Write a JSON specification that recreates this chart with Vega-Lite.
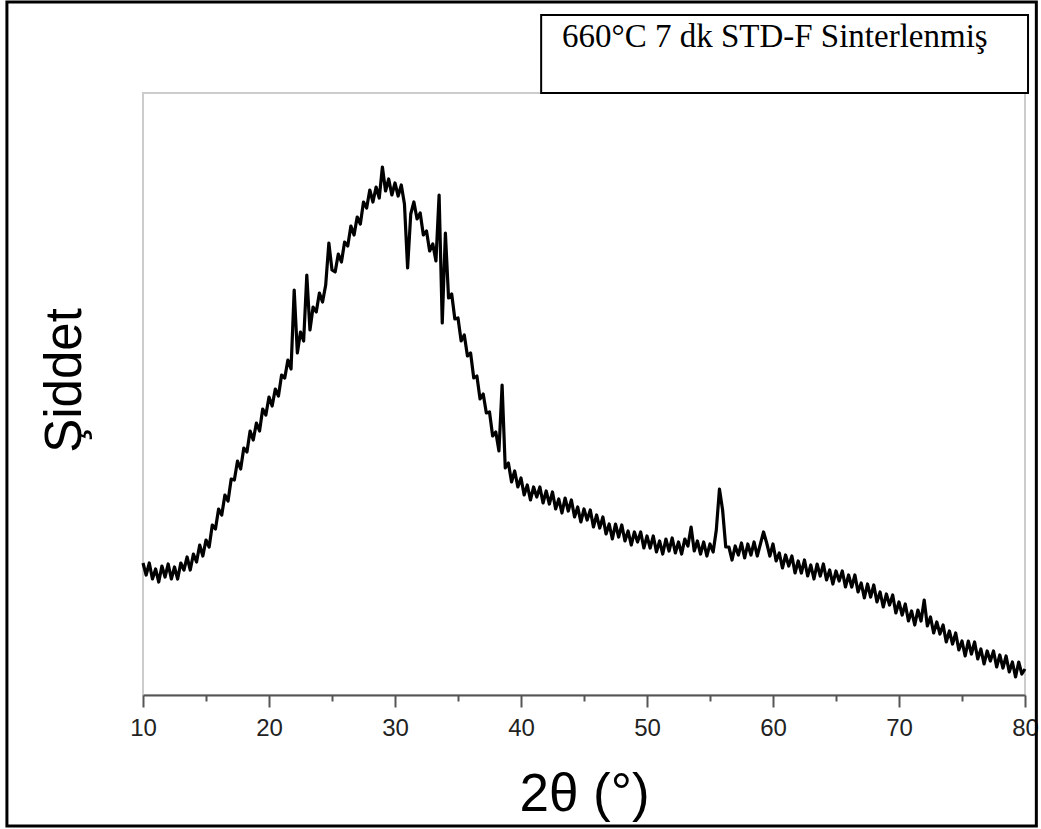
{
  "$schema": "https://vega.github.io/schema/vega-lite/v6.json",
  "width": 882,
  "height": 602,
  "autosize": "none",
  "padding": {"left": 143, "top": 93, "right": 16, "bottom": 134},
  "background": "white",
  "config": {"view": {"stroke": "#cccccc", "strokeWidth": 2}},
  "datasets": {
    "note": [{"label": "660°C 7 dk STD-F Sinterlenmiş"}],
    "xrd": [
      {"angle":10,"intensity":132},{"angle":10.25,"intensity":120},{"angle":10.5,"intensity":132},{"angle":10.75,"intensity":116},
      {"angle":11,"intensity":126},{"angle":11.25,"intensity":113},{"angle":11.5,"intensity":129},{"angle":11.75,"intensity":118},
      {"angle":12,"intensity":131},{"angle":12.25,"intensity":116},{"angle":12.5,"intensity":128},{"angle":12.75,"intensity":116},
      {"angle":13,"intensity":132},{"angle":13.25,"intensity":125},{"angle":13.5,"intensity":138},{"angle":13.75,"intensity":125},
      {"angle":14,"intensity":141},{"angle":14.25,"intensity":133},{"angle":14.5,"intensity":150},{"angle":14.75,"intensity":139},
      {"angle":15,"intensity":155},{"angle":15.25,"intensity":148},{"angle":15.5,"intensity":170},{"angle":15.75,"intensity":166},
      {"angle":16,"intensity":186},{"angle":16.25,"intensity":180},{"angle":16.5,"intensity":200},{"angle":16.75,"intensity":194},
      {"angle":17,"intensity":216},{"angle":17.25,"intensity":215},{"angle":17.5,"intensity":234},{"angle":17.75,"intensity":226},
      {"angle":18,"intensity":247},{"angle":18.25,"intensity":243},{"angle":18.5,"intensity":264},{"angle":18.75,"intensity":255},
      {"angle":19,"intensity":272},{"angle":19.25,"intensity":264},{"angle":19.5,"intensity":286},{"angle":19.75,"intensity":280},
      {"angle":20,"intensity":298},{"angle":20.25,"intensity":289},{"angle":20.5,"intensity":306},{"angle":20.75,"intensity":299},
      {"angle":21,"intensity":320},{"angle":21.25,"intensity":317},{"angle":21.5,"intensity":335},{"angle":21.75,"intensity":326},
      {"angle":22,"intensity":405},{"angle":22.25,"intensity":342},{"angle":22.5,"intensity":363},{"angle":22.75,"intensity":354},
      {"angle":23,"intensity":420},{"angle":23.25,"intensity":365},{"angle":23.5,"intensity":388},{"angle":23.75,"intensity":383},
      {"angle":24,"intensity":402},{"angle":24.25,"intensity":393},{"angle":24.5,"intensity":410},{"angle":24.75,"intensity":452},
      {"angle":25,"intensity":425},{"angle":25.25,"intensity":423},{"angle":25.5,"intensity":441},{"angle":25.75,"intensity":433},
      {"angle":26,"intensity":453},{"angle":26.25,"intensity":449},{"angle":26.5,"intensity":469},{"angle":26.75,"intensity":460},
      {"angle":27,"intensity":478},{"angle":27.25,"intensity":471},{"angle":27.5,"intensity":493},{"angle":27.75,"intensity":487},
      {"angle":28,"intensity":505},{"angle":28.25,"intensity":493},{"angle":28.5,"intensity":508},{"angle":28.75,"intensity":497},
      {"angle":29,"intensity":528},{"angle":29.25,"intensity":504},{"angle":29.5,"intensity":516},{"angle":29.75,"intensity":500},
      {"angle":30,"intensity":512},{"angle":30.25,"intensity":499},{"angle":30.5,"intensity":510},{"angle":30.75,"intensity":491},
      {"angle":31,"intensity":427},{"angle":31.25,"intensity":481},{"angle":31.5,"intensity":493},{"angle":31.75,"intensity":476},
      {"angle":32,"intensity":482},{"angle":32.25,"intensity":460},{"angle":32.5,"intensity":464},{"angle":32.75,"intensity":444},
      {"angle":33,"intensity":451},{"angle":33.25,"intensity":434},{"angle":33.5,"intensity":500},{"angle":33.75,"intensity":372},
      {"angle":34,"intensity":462},{"angle":34.25,"intensity":397},{"angle":34.5,"intensity":401},{"angle":34.75,"intensity":376},
      {"angle":35,"intensity":377},{"angle":35.25,"intensity":354},{"angle":35.5,"intensity":360},{"angle":35.75,"intensity":339},
      {"angle":36,"intensity":342},{"angle":36.25,"intensity":317},{"angle":36.5,"intensity":319},{"angle":36.75,"intensity":296},
      {"angle":37,"intensity":301},{"angle":37.25,"intensity":282},{"angle":37.5,"intensity":283},{"angle":37.75,"intensity":259},
      {"angle":38,"intensity":263},{"angle":38.25,"intensity":244},{"angle":38.5,"intensity":310},{"angle":38.75,"intensity":227},
      {"angle":39,"intensity":232},{"angle":39.25,"intensity":213},{"angle":39.5,"intensity":224},{"angle":39.75,"intensity":208},
      {"angle":40,"intensity":217},{"angle":40.25,"intensity":200},{"angle":40.5,"intensity":210},{"angle":40.75,"intensity":195},
      {"angle":41,"intensity":208},{"angle":41.25,"intensity":198},{"angle":41.5,"intensity":208},{"angle":41.75,"intensity":192},
      {"angle":42,"intensity":204},{"angle":42.25,"intensity":191},{"angle":42.5,"intensity":203},{"angle":42.75,"intensity":186},
      {"angle":43,"intensity":196},{"angle":43.25,"intensity":182},{"angle":43.5,"intensity":197},{"angle":43.75,"intensity":184},
      {"angle":44,"intensity":195},{"angle":44.25,"intensity":178},{"angle":44.5,"intensity":188},{"angle":44.75,"intensity":173},
      {"angle":45,"intensity":186},{"angle":45.25,"intensity":175},{"angle":45.5,"intensity":185},{"angle":45.75,"intensity":168},
      {"angle":46,"intensity":180},{"angle":46.25,"intensity":167},{"angle":46.5,"intensity":178},{"angle":46.75,"intensity":161},
      {"angle":47,"intensity":171},{"angle":47.25,"intensity":156},{"angle":47.5,"intensity":171},{"angle":47.75,"intensity":158},
      {"angle":48,"intensity":170},{"angle":48.25,"intensity":154},{"angle":48.5,"intensity":164},{"angle":48.75,"intensity":150},
      {"angle":49,"intensity":163},{"angle":49.25,"intensity":153},{"angle":49.5,"intensity":163},{"angle":49.75,"intensity":147},
      {"angle":50,"intensity":159},{"angle":50.25,"intensity":147},{"angle":50.5,"intensity":159},{"angle":50.75,"intensity":143},
      {"angle":51,"intensity":154},{"angle":51.25,"intensity":141},{"angle":51.5,"intensity":156},{"angle":51.75,"intensity":144},
      {"angle":52,"intensity":157},{"angle":52.25,"intensity":142},{"angle":52.5,"intensity":153},{"angle":52.75,"intensity":141},
      {"angle":53,"intensity":156},{"angle":53.25,"intensity":149},{"angle":53.5,"intensity":168},{"angle":53.75,"intensity":144},
      {"angle":54,"intensity":154},{"angle":54.25,"intensity":141},{"angle":54.5,"intensity":153},{"angle":54.75,"intensity":139},
      {"angle":55,"intensity":151},{"angle":55.25,"intensity":143},{"angle":55.5,"intensity":165},{"angle":55.75,"intensity":206},
      {"angle":56,"intensity":185},{"angle":56.25,"intensity":148},{"angle":56.5,"intensity":148},{"angle":56.75,"intensity":135},
      {"angle":57,"intensity":149},{"angle":57.25,"intensity":140},{"angle":57.5,"intensity":152},{"angle":57.75,"intensity":137},
      {"angle":58,"intensity":151},{"angle":58.25,"intensity":140},{"angle":58.5,"intensity":153},{"angle":58.75,"intensity":139},
      {"angle":59,"intensity":151},{"angle":59.25,"intensity":163},{"angle":59.5,"intensity":152},{"angle":59.75,"intensity":139},
      {"angle":60,"intensity":151},{"angle":60.25,"intensity":134},{"angle":60.5,"intensity":142},{"angle":60.75,"intensity":127},
      {"angle":61,"intensity":140},{"angle":61.25,"intensity":129},{"angle":61.5,"intensity":139},{"angle":61.75,"intensity":122},
      {"angle":62,"intensity":134},{"angle":62.25,"intensity":122},{"angle":62.5,"intensity":135},{"angle":62.75,"intensity":119},
      {"angle":63,"intensity":130},{"angle":63.25,"intensity":116},{"angle":63.5,"intensity":131},{"angle":63.75,"intensity":119},
      {"angle":64,"intensity":131},{"angle":64.25,"intensity":115},{"angle":64.5,"intensity":125},{"angle":64.75,"intensity":111},
      {"angle":65,"intensity":124},{"angle":65.25,"intensity":114},{"angle":65.5,"intensity":124},{"angle":65.75,"intensity":108},
      {"angle":66,"intensity":120},{"angle":66.25,"intensity":108},{"angle":66.5,"intensity":120},{"angle":66.75,"intensity":103},
      {"angle":67,"intensity":112},{"angle":67.25,"intensity":97},{"angle":67.5,"intensity":111},{"angle":67.75,"intensity":98},
      {"angle":68,"intensity":110},{"angle":68.25,"intensity":93},{"angle":68.5,"intensity":103},{"angle":68.75,"intensity":88},
      {"angle":69,"intensity":101},{"angle":69.25,"intensity":90},{"angle":69.5,"intensity":100},{"angle":69.75,"intensity":82},
      {"angle":70,"intensity":93},{"angle":70.25,"intensity":80},{"angle":70.5,"intensity":91},{"angle":70.75,"intensity":74},
      {"angle":71,"intensity":84},{"angle":71.25,"intensity":70},{"angle":71.5,"intensity":85},{"angle":71.75,"intensity":74},
      {"angle":72,"intensity":95},{"angle":72.25,"intensity":69},{"angle":72.5,"intensity":78},{"angle":72.75,"intensity":62},
      {"angle":73,"intensity":73},{"angle":73.25,"intensity":61},{"angle":73.5,"intensity":70},{"angle":73.75,"intensity":53},
      {"angle":74,"intensity":64},{"angle":74.25,"intensity":51},{"angle":74.5,"intensity":62},{"angle":74.75,"intensity":45},
      {"angle":75,"intensity":54},{"angle":75.25,"intensity":39},{"angle":75.5,"intensity":54},{"angle":75.75,"intensity":41},
      {"angle":76,"intensity":53},{"angle":76.25,"intensity":36},{"angle":76.5,"intensity":46},{"angle":76.75,"intensity":31},
      {"angle":77,"intensity":44},{"angle":77.25,"intensity":34},{"angle":77.5,"intensity":44},{"angle":77.75,"intensity":28},
      {"angle":78,"intensity":40},{"angle":78.25,"intensity":27},{"angle":78.5,"intensity":39},{"angle":78.75,"intensity":23},
      {"angle":79,"intensity":33},{"angle":79.25,"intensity":18},{"angle":79.5,"intensity":33},{"angle":79.75,"intensity":21},
      {"angle":80,"intensity":26}
    ]
  },
  "layer": [
    {
      "data": {"name": "xrd"},
      "mark": {"type": "line", "color": "black", "strokeWidth": 3.2, "interpolate": "linear", "strokeJoin": "round"},
      "encoding": {
        "x": {
          "field": "angle", "type": "quantitative",
          "scale": {"domain": [10, 80], "nice": false, "zero": false},
          "axis": {
            "title": "2θ (°)",
            "values": [10, 15, 20, 25, 30, 35, 40, 45, 50, 55, 60, 65, 70, 75, 80],
            "labelExpr": "datum.value % 10 === 0 ? datum.label : ''",
            "tickSize": {"condition": {"test": "datum.value % 10 === 0", "value": 12}, "value": 6},
            "tickWidth": 2, "tickColor": "#555555",
            "domainColor": "#555555", "domainWidth": 2,
            "grid": false,
            "labelFont": "Liberation Sans", "labelFontSize": 24, "labelColor": "#222222",
            "labelPadding": 9, "labelFlush": false, "labelOverlap": false,
            "titleFont": "Liberation Sans", "titleFontSize": 53, "titleFontWeight": "normal", "titleColor": "black",
            "titleX": 441, "titleY": 115, "titleAlign": "center", "titleBaseline": "alphabetic"
          }
        },
        "y": {
          "field": "intensity", "type": "quantitative",
          "scale": {"domain": [0, 602], "nice": false, "zero": false},
          "axis": {
            "title": "Şiddet", "ticks": false, "labels": false, "domain": false, "grid": false,
            "titleFont": "Liberation Sans", "titleFontSize": 51, "titleFontWeight": "normal", "titleColor": "black",
            "titleX": -63, "titleY": 287, "titleAlign": "center", "titleBaseline": "alphabetic", "titleAngle": -90
          }
        }
      }
    },
    {
      "data": {"name": "note"},
      "mark": {"type": "rect", "fill": "white", "stroke": "black", "strokeWidth": 2},
      "encoding": {
        "x": {"datum": 41.6, "type": "quantitative"},
        "x2": {"datum": 80.24},
        "y": {"datum": 602, "type": "quantitative"},
        "y2": {"datum": 680}
      }
    },
    {
      "data": {"name": "note"},
      "mark": {"type": "text", "font": "Liberation Serif", "fontSize": 33, "align": "left", "baseline": "alphabetic", "color": "black"},
      "encoding": {
        "x": {"datum": 43.25, "type": "quantitative"},
        "y": {"datum": 648, "type": "quantitative"},
        "text": {"field": "label", "type": "nominal"}
      }
    },
    {
      "data": {"name": "note"},
      "mark": {"type": "rect", "filled": false, "stroke": "black", "strokeWidth": 3},
      "encoding": {
        "x": {"datum": -0.8, "type": "quantitative"},
        "x2": {"datum": 80.9},
        "y": {"datum": -131, "type": "quantitative"},
        "y2": {"datum": 693}
      }
    }
  ]
}
